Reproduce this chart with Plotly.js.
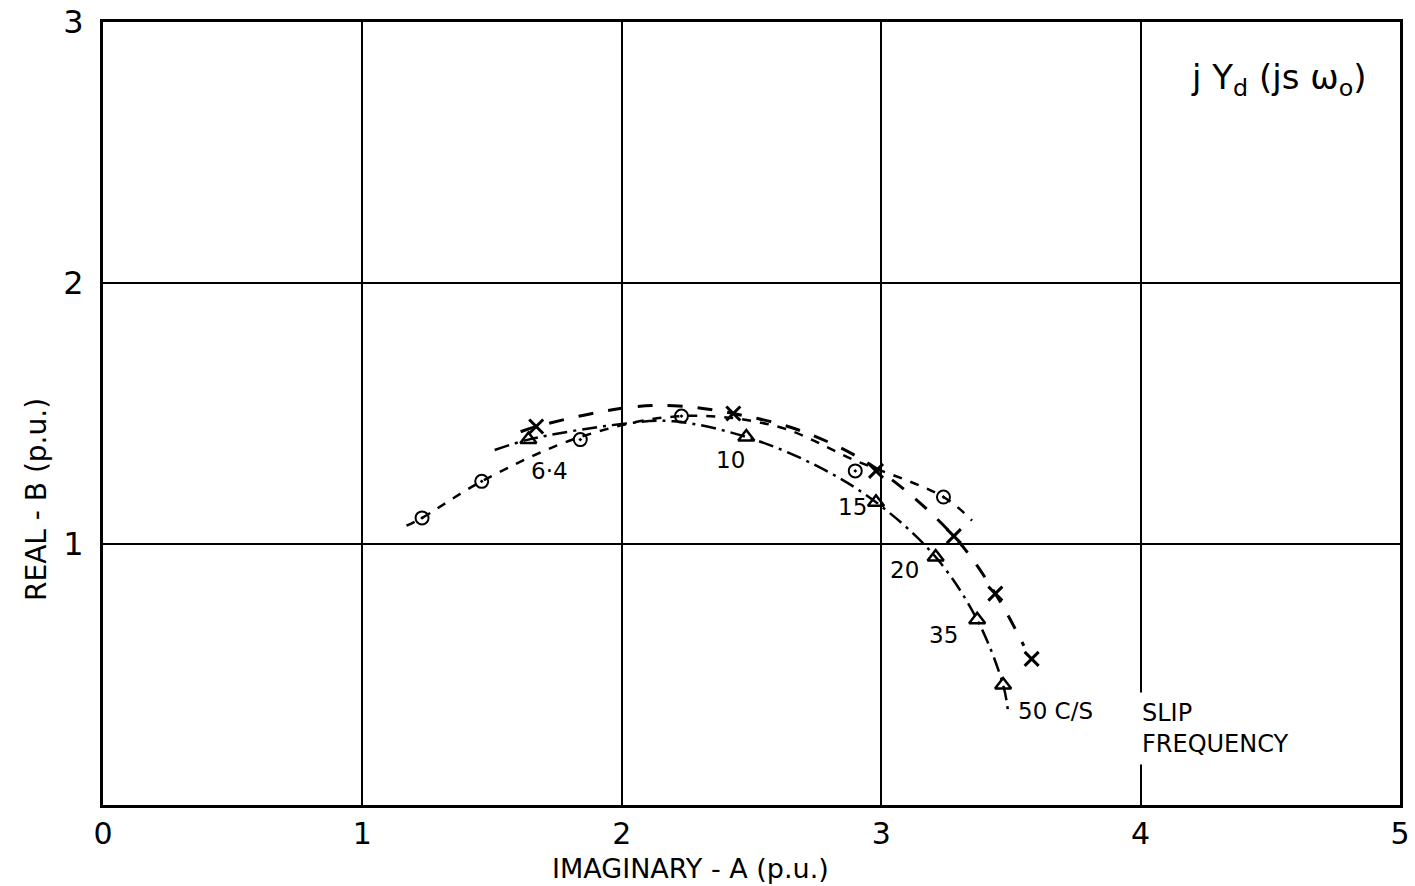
<!DOCTYPE html>
<html><head><meta charset="utf-8">
<script src="https://cdn.plot.ly/plotly-3.0.1.min.js"></script>
<style>html,body{margin:0;padding:0;background:#fff}#chart{width:1415px;height:886px}</style>
</head><body><div id="chart"></div>
<script>
// Measured points (⊙ series)
const circA = [1.23, 1.46, 1.84, 2.23, 2.90, 3.24];
const circB = [1.10, 1.24, 1.40, 1.49, 1.28, 1.18];
// Curve drawn through ⊙ points
const circCurveA = [1.17, 1.23, 1.46, 1.84, 2.23, 2.60, 2.90, 3.24, 3.35];
const circCurveB = [1.07, 1.10, 1.24, 1.41, 1.49, 1.45, 1.32, 1.18, 1.09];

// Measured points (× series)
const crossA = [1.67, 2.43, 2.98, 3.28, 3.44, 3.58];
const crossB = [1.45, 1.50, 1.28, 1.03, 0.81, 0.56];
const crossCurveA = [1.61, 1.67, 2.00, 2.20, 2.43, 2.70, 2.98, 3.28, 3.44, 3.55];
const crossCurveB = [1.43, 1.45, 1.52, 1.53, 1.50, 1.43, 1.29, 1.03, 0.81, 0.61];

// Measured points (△ series)
const triA = [1.64, 2.48, 2.98, 3.21, 3.37, 3.47];
const triB = [1.40, 1.41, 1.16, 0.95, 0.71, 0.46];
const triCurveA = [1.51, 1.64, 2.00, 2.20, 2.48, 2.75, 2.98, 3.21, 3.37, 3.47, 3.49];
const triCurveB = [1.36, 1.40, 1.46, 1.47, 1.41, 1.30, 1.16, 0.95, 0.71, 0.46, 0.35];

// Slip frequency labels
const slipLabels = ["6·4", "10", "15", "20", "35", "50 C/S"];
const slipLabelA = [1.72, 2.42, 2.89, 3.09, 3.24, 3.52];
const slipLabelB = [1.28, 1.32, 1.14, 0.90, 0.65, 0.36];

const xTicks = [0, 1, 2, 3, 4, 5];
const xTickText = ["0", "1", "2", "3", "4", "5"];
const yTicks = [1, 2, 3];
const yTickText = ["1", "2", "3"];

const FONT = "DejaVu Sans, Liberation Sans, sans-serif";

const traces = [
  {x: circCurveA, y: circCurveB, mode: "lines", line: {color: "#000", width: 2.5, dash: "dash", shape: "spline"}, hoverinfo: "skip"},
  {x: crossCurveA, y: crossCurveB, mode: "lines", line: {color: "#000", width: 3, dash: "longdash", shape: "spline"}, hoverinfo: "skip"},
  {x: triCurveA, y: triCurveB, mode: "lines", line: {color: "#000", width: 2.5, dash: "longdashdot", shape: "spline"}, hoverinfo: "skip"},
  {x: circA, y: circB, mode: "markers", marker: {symbol: "circle-open-dot", size: 13, color: "#000", line: {width: 2, color: "#000"}}},
  {x: crossA, y: crossB, mode: "markers", marker: {symbol: "x-thin-open", size: 14, color: "#000", line: {width: 3, color: "#000"}}},
  {x: triA, y: triB, mode: "markers", marker: {symbol: "triangle-up-open", size: 14, color: "#000", line: {width: 2.5, color: "#000"}}}
];

const annotations = slipLabels.map((t, i) => ({
  x: slipLabelA[i], y: slipLabelB[i], text: t, showarrow: false,
  xanchor: i === 5 ? "left" : "center", yanchor: "middle",
  font: {family: FONT, size: 23, color: "#000"}
}));
annotations.push({
  x: 4.0, y: 0.295, text: "SLIP<br>FREQUENCY", showarrow: false, align: "left",
  xanchor: "left", yanchor: "middle", xshift: -6, bgcolor: "#fff", borderpad: 6,
  font: {family: FONT, size: 24, color: "#000"}
});
annotations.push({
  x: 4.53, y: 2.78, text: "j Y<sub>d</sub> (js ω<sub>o</sub>)", showarrow: false,
  xanchor: "center", yanchor: "middle",
  font: {family: FONT, size: 34, color: "#000"}
});
annotations.push({
  xref: "paper", yref: "paper", x: (690 - 103) / 1297, y: -(868 - 805) / 783, text: "IMAGINARY - A (p.u.)",
  showarrow: false, xanchor: "center", yanchor: "middle",
  font: {family: FONT, size: 27, color: "#000"}
});
annotations.push({
  xref: "paper", yref: "paper", x: -(103 - 36) / 1297, y: (805 - 500) / 783, text: "REAL - B (p.u.)",
  textangle: -90, showarrow: false, xanchor: "center", yanchor: "middle",
  font: {family: FONT, size: 28, color: "#000"}
});

const layout = {
  width: 1415, height: 886,
  margin: {l: 103, r: 15, t: 22, b: 81},
  paper_bgcolor: "#fff", plot_bgcolor: "#fff",
  showlegend: false,
  xaxis: {
    range: [0, 5], tickvals: xTicks, ticktext: xTickText, showgrid: true, gridcolor: "#000", gridwidth: 2,
    zeroline: false, showline: true, linecolor: "#000", linewidth: 3, mirror: true, ticks: "",
    tickfont: {family: FONT, size: 30, color: "#000"}, fixedrange: true
  },
  yaxis: {
    range: [0, 3], tickvals: yTicks, ticktext: yTickText, showgrid: true, gridcolor: "#000", gridwidth: 2,
    zeroline: false, showline: true, linecolor: "#000", linewidth: 3, mirror: true, ticks: "",
    tickfont: {family: FONT, size: 32, color: "#000"}, ticklabelstandoff: 10, fixedrange: true
  },
  annotations: annotations
};

Plotly.newPlot("chart", traces, layout, {displayModeBar: false, staticPlot: true});
</script></body></html>
